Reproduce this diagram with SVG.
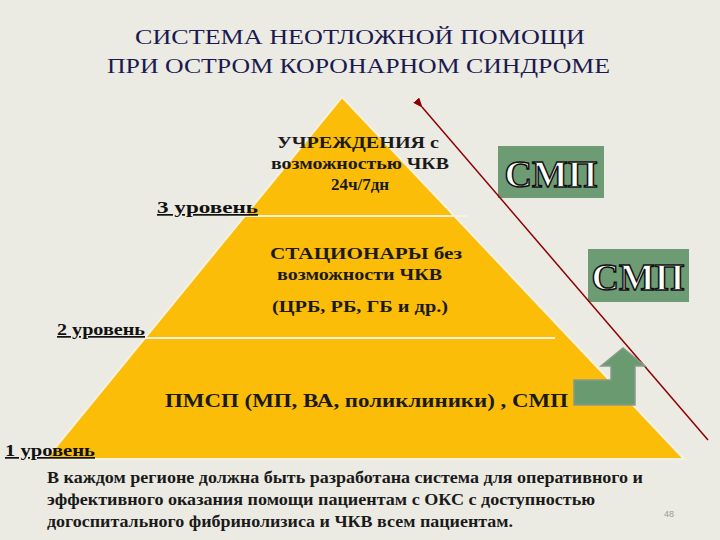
<svg xmlns="http://www.w3.org/2000/svg" width="720" height="540" viewBox="0 0 720 540">
<defs>
<style>
.t{font-family:"Liberation Serif","Times New Roman","DejaVu Serif",serif;font-weight:bold;fill:#1a1a1a}
.lv{font-family:"Liberation Serif","DejaVu Serif",serif;font-weight:bold;font-size:17px;text-decoration:underline;fill:#111}
.smp{font-family:"Liberation Serif","DejaVu Serif",serif;font-weight:bold;font-size:38px;fill:#fff;stroke:#111;stroke-width:1.5px}
.ttl{font-family:"Liberation Serif","DejaVu Serif",serif;font-size:21px;fill:#1a1a50}
.box{fill:#6d9c74}
</style>
<marker id="ah" markerWidth="10" markerHeight="8" refX="1" refY="4" orient="auto-start-reverse" markerUnits="userSpaceOnUse"><path d="M10,0 L0,4 L10,8 z" fill="#8b0000"/></marker>
</defs>
<rect width="720" height="540" fill="#ecebe3"/>
<text class="ttl" x="135" y="44" textLength="450" lengthAdjust="spacingAndGlyphs">СИСТЕМА НЕОТЛОЖНОЙ ПОМОЩИ</text>
<text class="ttl" x="107" y="73" textLength="503" lengthAdjust="spacingAndGlyphs">ПРИ ОСТРОМ КОРОНАРНОМ СИНДРОМЕ</text>
<g id="pyramid">
<polygon points="342,97 684,459 46,459" fill="#fbbd08" stroke="#f5f1e0" stroke-width="2"/>
<line x1="230" y1="216" x2="467" y2="216" stroke="#f5f1e0" stroke-width="2"/>
<line x1="144" y1="338" x2="555" y2="338" stroke="#f5f1e0" stroke-width="2"/>
</g>
<g id="level3">
<text class="t" font-size="17" x="277" y="148" textLength="162" lengthAdjust="spacingAndGlyphs">УЧРЕЖДЕНИЯ с</text>
<text class="t" font-size="17" x="271" y="169" textLength="178" lengthAdjust="spacingAndGlyphs">возможностью ЧКВ</text>
<text class="t" font-size="17" x="360" y="190" text-anchor="middle">24ч/7дн</text>
<text class="lv" x="157" y="213" textLength="101" lengthAdjust="spacingAndGlyphs">3 уровень</text>
</g>
<g id="level2">
<text class="t" font-size="17" x="270" y="259" textLength="192" lengthAdjust="spacingAndGlyphs">СТАЦИОНАРЫ без</text>
<text class="t" font-size="17" x="277" y="280" textLength="165" lengthAdjust="spacingAndGlyphs">возможности ЧКВ</text>
<text class="t" font-size="17" x="272" y="312" textLength="176" lengthAdjust="spacingAndGlyphs">(ЦРБ, РБ, ГБ и др.)</text>
<text class="lv" x="57" y="335" textLength="88" lengthAdjust="spacingAndGlyphs">2 уровень</text>
</g>
<g id="level1">
<text class="t" font-size="19" x="165" y="407" textLength="403" lengthAdjust="spacingAndGlyphs">ПМСП (МП, ВА, поликлиники) , СМП</text>
<text class="lv" x="5" y="456" textLength="90" lengthAdjust="spacingAndGlyphs">1 уровень</text>
</g>
<g id="smp1"><rect class="box" x="498" y="146" width="106" height="52"/><text class="smp" x="551" y="187" text-anchor="middle">СМП</text></g>
<g id="smp2"><rect class="box" x="588" y="249" width="101" height="53"/><text class="smp" x="638" y="290" text-anchor="middle">СМП</text></g>
<g id="connectors">
<line x1="422" y1="107" x2="708" y2="440" stroke="#8b0000" stroke-width="1.5" marker-start="url(#ah)"/>
<path d="M574,380 L611,380 L611,366 L601,366 L623,348 L645,366 L635,366 L635,405 L574,405 Z" fill="#6a9a70" stroke="#8a9a8a" stroke-width="1.5"/>
</g>
<g id="note">
<text class="t" font-size="16" x="47" y="483" textLength="596" lengthAdjust="spacingAndGlyphs">В каждом регионе должна быть разработана система для оперативного и</text>
<text class="t" font-size="16" x="47" y="505" textLength="548" lengthAdjust="spacingAndGlyphs">эффективного оказания помощи пациентам с ОКС с доступностью</text>
<text class="t" font-size="16" x="47" y="527" textLength="466" lengthAdjust="spacingAndGlyphs">догоспитального фибринолизиса и ЧКВ всем пациентам.</text>
<text x="664" y="517" font-family="Liberation Sans,sans-serif" font-size="9" fill="#999">48</text>
</g>
</svg>
